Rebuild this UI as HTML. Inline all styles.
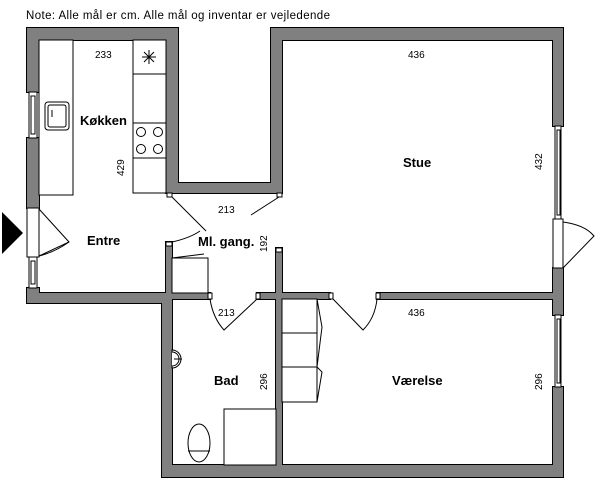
<!DOCTYPE html>
<html><head><meta charset="utf-8"><style>
html,body{margin:0;padding:0;background:#fff;}
svg{display:block;}
text{font-family:"Liberation Sans",sans-serif;fill:#000;}
.b{font-weight:bold;font-size:13px;}
.d{font-size:10px;}
</style></head><body>
<svg width="600" height="483" viewBox="0 0 600 483" xmlns="http://www.w3.org/2000/svg">
<defs>
<g id="walls">
<rect x="27" y="28" width="151" height="12"/>
<rect x="27" y="28" width="12" height="64"/>
<rect x="27" y="138" width="12" height="70"/>
<rect x="27" y="288" width="12" height="15"/>
<rect x="166" y="28" width="12" height="165"/>
<rect x="166" y="183" width="116" height="10"/>
<rect x="271" y="28" width="11" height="165"/>
<rect x="271" y="28" width="292" height="12"/>
<rect x="553" y="28" width="10" height="98"/>
<rect x="553" y="268" width="10" height="47"/>
<rect x="553" y="387" width="10" height="90"/>
<rect x="27" y="293" width="145" height="10"/>
<rect x="162" y="293" width="10" height="184"/>
<rect x="162" y="465" width="401" height="12"/>
<rect x="166" y="242" width="6" height="55"/>
<rect x="172" y="293" width="38" height="6"/>
<rect x="257" y="293" width="73" height="6"/>
<rect x="377" y="293" width="176" height="6"/>
<rect x="276" y="248" width="6" height="217"/>
</g>
</defs>
<text x="26" y="19" font-size="11.5" textLength="304">Note: Alle mål er cm. Alle mål og inventar er vejledende</text>
<use href="#walls" fill="#000" stroke="#000" stroke-width="2"/>
<use href="#walls" fill="#808080"/>
<g fill="#fff" stroke="#000" stroke-width="1">
<rect x="167" y="193" width="5" height="4"/>
<rect x="277" y="193" width="5" height="4"/>
<rect x="166" y="242" width="6" height="4"/>
<rect x="276" y="248" width="6" height="4"/>
<rect x="208" y="293" width="4" height="6"/>
<rect x="256" y="293" width="4" height="6"/>
<rect x="329" y="293" width="4" height="6"/>
<rect x="376" y="293" width="4" height="6"/>
<rect x="29" y="92" width="8" height="46"/>
<rect x="31" y="96" width="4" height="38"/>
<rect x="29" y="257" width="8" height="31"/>
<rect x="31" y="261" width="4" height="23"/>
<rect x="555" y="126" width="6" height="93"/>
<rect x="557" y="130" width="3" height="85"/>
<rect x="555" y="315" width="6" height="72"/>
<rect x="557" y="319" width="3" height="64"/>
<rect x="27" y="208" width="12" height="49"/>
<rect x="553" y="219" width="10" height="49"/>
<rect x="39" y="40" width="34" height="155"/>
<rect x="133" y="40" width="33" height="153"/>
<rect x="45" y="102" width="24" height="28" rx="3"/>
<rect x="48" y="105" width="18" height="22" rx="2"/>
<rect x="172" y="258" width="36" height="35"/>
<rect x="282" y="299" width="35" height="34"/>
<rect x="282" y="333" width="35" height="34"/>
<rect x="282" y="367" width="35" height="35"/>
<rect x="224" y="409" width="52" height="56"/>
<ellipse cx="199" cy="443" rx="11" ry="19"/>
<path d="M172 350 A9 9 0 0 1 172 368 Z"/>
<path d="M172 352 A7 7 0 0 1 172 366"/>
</g>
<g fill="none" stroke="#000" stroke-width="1">
<line x1="133" y1="74" x2="166" y2="74"/>
<line x1="133" y1="123" x2="166" y2="123"/>
<line x1="133" y1="158" x2="166" y2="158"/>
<circle cx="141" cy="132" r="4.5"/><circle cx="158" cy="132" r="4.5"/>
<circle cx="141" cy="149" r="4.5"/><circle cx="158" cy="149" r="4.5"/>
<path d="M142 57h14M149 50v14M144 52l10 10M154 52l-10 10"/>
<path d="M39 209 L69 242 L39 256"/>
<path d="M39 256 Q55 252 69 242"/>
<path d="M172 197 L206 231"/>
<path d="M279 197 L251 215"/>
<path d="M172 242 Q190 238 200 231"/>
<path d="M172 258 L204 254"/>
<path d="M210 299 Q213 318 224 330 L257 299"/>
<path d="M333 299 L363 330 Q375 318 377 299"/>
<path d="M317 299 L322 327 L317 367 L322 372 L317 402"/>
<path d="M563 222 Q585 225 594 236 L563 268"/>
<line x1="188" y1="451" x2="210" y2="451"/>
<line x1="174" y1="359" x2="182" y2="359"/>
<line x1="52" y1="110" x2="52" y2="117"/>
</g>
<polygon points="2,212 23,233 2,254" fill="#000"/>
<text class="b" x="80" y="125">Køkken</text>
<text class="b" x="87" y="245">Entre</text>
<text class="b" x="198" y="246">Ml. gang.</text>
<text class="b" x="403" y="167">Stue</text>
<text class="b" x="214" y="385">Bad</text>
<text class="b" x="392" y="385">Værelse</text>
<text class="d" x="95" y="58">233</text>
<text class="d" x="218" y="213">213</text>
<text class="d" x="218" y="316">213</text>
<text class="d" x="408" y="58">436</text>
<text class="d" x="408" y="316">436</text>
<text class="d" transform="translate(124,176) rotate(-90)">429</text>
<text class="d" transform="translate(267,252) rotate(-90)">192</text>
<text class="d" transform="translate(542,170) rotate(-90)">432</text>
<text class="d" transform="translate(267,390) rotate(-90)">296</text>
<text class="d" transform="translate(542,390) rotate(-90)">296</text>
</svg>
</body></html>
